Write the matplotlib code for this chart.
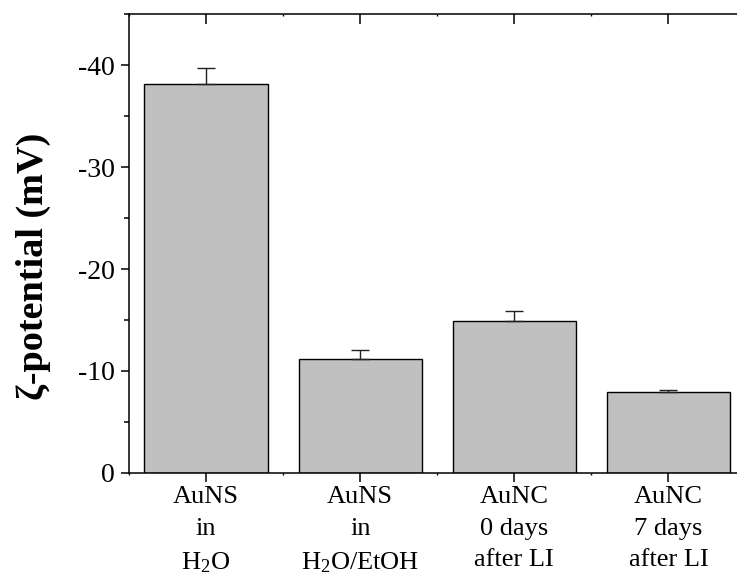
import matplotlib
matplotlib.use("Agg")
import matplotlib.pyplot as plt
from matplotlib.ticker import FuncFormatter, MultipleLocator

# zeta potential magnitudes (mV, plotted as negative labels)
samples = ["AuNS\nin\nH$_2$O", "AuNS\nin\nH$_2$O/EtOH",
           "AuNC\n0 days\nafter LI", "AuNC\n7 days\nafter LI"]
zeta = [38.1, 11.2, 14.95, 7.95]
zeta_err = [1.65, 0.9, 0.95, 0.2]

plt.rcParams['font.family'] = ['Liberation Serif', 'DejaVu Serif']
plt.rcParams['mathtext.fontset'] = 'custom'
plt.rcParams['mathtext.rm'] = 'Liberation Serif'
plt.rcParams['mathtext.it'] = 'Liberation Serif:italic'

fig = plt.figure(figsize=(7.37, 5.78), dpi=100)
ax = fig.add_axes([0.175, 0.1817, 0.8365, 0.794])

x = list(range(len(samples)))
ax.bar(x, zeta, width=0.8, color='#c0c0c0', edgecolor='black', linewidth=1.0,
       yerr=[[0] * len(zeta_err), zeta_err],
       error_kw=dict(ecolor='#222222', elinewidth=1.0, capsize=6.5, capthick=1.0),
       zorder=2)

ax.set_xlim(-0.5, 3.5)
ax.set_ylim(0, 45)
ax.set_xticks(x)
ax.set_xticklabels(samples, fontsize=19)
for lab in ax.get_xticklabels():
    lab.set_linespacing(1.55)
ax.xaxis.set_minor_locator(MultipleLocator(0.5))
ax.yaxis.set_major_locator(MultipleLocator(10))
ax.yaxis.set_minor_locator(MultipleLocator(5))
ax.yaxis.set_major_formatter(FuncFormatter(lambda v, p: "0" if v == 0 else "-%d" % v))

for s in ax.spines.values():
    s.set_linewidth(1.1)

ax.tick_params(axis='y', which='major', direction='out', length=6, width=1.1,
               labelsize=20, pad=4, right=True)
ax.tick_params(axis='y', which='minor', direction='out', length=3.5, width=1.1, right=False)
ax.tick_params(axis='x', which='major', direction='out', length=6.5, width=1.1, pad=3, top=True)
ax.tick_params(axis='x', which='minor', direction='out', length=1.5, width=1.0, top=True)

# inward ticks on top / right
for t in ax.xaxis.get_major_ticks():
    t.tick2line.set_marker(matplotlib.lines.TICKDOWN)
    t.tick2line.set_markersize(7)
for t in ax.xaxis.get_minor_ticks():
    t.tick2line.set_marker(matplotlib.lines.TICKDOWN)
    t.tick2line.set_markersize(1.5)
for t in ax.yaxis.get_major_ticks():
    t.tick2line.set_marker(matplotlib.lines.TICKLEFT)
    t.tick2line.set_markersize(6)

ax.set_ylabel("ζ-potential (mV)", fontsize=27.5, fontweight='bold')
ax.yaxis.set_label_coords(-0.127, 0.45)

fig.savefig("out.png", dpi=100)
